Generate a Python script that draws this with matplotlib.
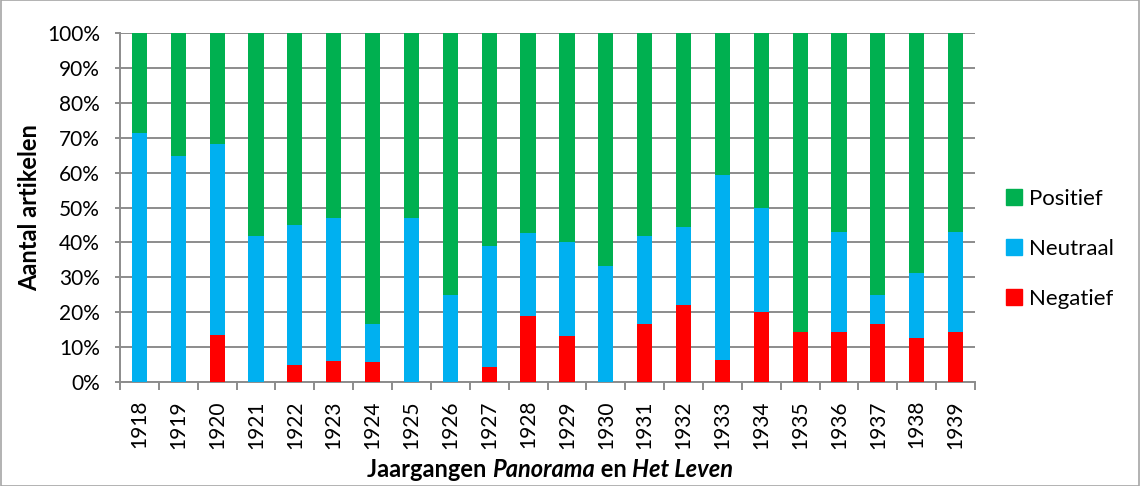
import matplotlib
matplotlib.use("Agg")
import matplotlib.pyplot as plt
from matplotlib.offsetbox import TextArea, HPacker, AnchoredOffsetbox
from matplotlib.patches import Rectangle, Patch
from matplotlib.ticker import FixedLocator, PercentFormatter

plt.rcParams['font.family'] = ['Lato', 'DejaVu Sans']

years = ['1918', '1919', '1920', '1921', '1922', '1923', '1924', '1925', '1926', '1927', '1928',
         '1929', '1930', '1931', '1932', '1933', '1934', '1935', '1936', '1937', '1938', '1939']
negatief = [0.0, 0.0, 13.6, 0.0, 5.0, 5.9, 5.6, 0.0, 0.0, 4.3, 19.0,
            13.3, 0.0, 16.7, 22.2, 6.2, 20.0, 14.3, 14.3, 16.7, 12.5, 14.3]
neutraal = [71.4, 64.7, 54.5, 41.7, 40.0, 41.2, 11.1, 47.1, 25.0, 34.8, 23.8,
            26.7, 33.3, 25.0, 22.2, 53.1, 30.0, 0.0, 28.6, 8.3, 18.8, 28.6]
positief = [28.6, 35.3, 31.9, 58.3, 55.0, 52.9, 83.3, 52.9, 75.0, 60.9, 57.2,
            60.0, 66.7, 58.3, 55.6, 40.7, 50.0, 85.7, 57.1, 75.0, 68.7, 57.1]

GREEN, BLUE, RED = '#00B050', '#00B0F0', '#FF0000'
GRID = '#8C8C8C'

fig = plt.figure(figsize=(11.4, 4.86), dpi=100)
ax = fig.add_axes([120 / 1140, 1 - 382 / 486, 855 / 1140, 349 / 486])

x = list(range(len(years)))
w = 0.39
bottom_neu = negatief
bottom_pos = [a + b for a, b in zip(negatief, neutraal)]
ax.bar(x, negatief, w, color=RED, zorder=3)
ax.bar(x, neutraal, w, bottom=bottom_neu, color=BLUE, zorder=3)
ax.bar(x, positief, w, bottom=bottom_pos, color=GREEN, zorder=3)

ax.set_xlim(-0.5, len(years) - 0.5)
ax.set_ylim(0, 100)
ax.set_yticks(range(0, 101, 10))
ax.yaxis.set_major_formatter(PercentFormatter(decimals=0))
ax.grid(axis='y', color=GRID, linewidth=1.4, zorder=0)

ax.set_xticks(x)
ax.set_xticklabels(years, rotation=90, fontsize=15)
ax.xaxis.set_minor_locator(FixedLocator([i - 0.5 for i in range(len(years) + 1)]))
ax.tick_params(axis='x', which='major', length=0, pad=13)
ax.tick_params(axis='x', which='minor', length=6, width=1.4, color=GRID)
ax.tick_params(axis='y', length=3.5, width=1.4, color=GRID, labelsize=15, pad=11)

for side in ['top', 'right']:
    ax.spines[side].set_visible(False)
for side in ['left', 'bottom']:
    ax.spines[side].set_color(GRID)
    ax.spines[side].set_linewidth(1.4)

ax.set_ylabel('Aantal artikelen', fontsize=17, fontweight='bold')
ax.yaxis.set_label_coords(41 / 1140, 1 - 208 / 486, transform=fig.transFigure)

# x-axis title with italic magazine names
parts = [('Jaargangen ', 'normal'), ('Panorama', 'italic'), (' en ', 'normal'), ('Het Leven', 'italic')]
boxes = [TextArea(t, textprops=dict(fontsize=17, fontweight='bold', style=s)) for t, s in parts]
title = HPacker(children=boxes, align='baseline', pad=0, sep=0)
anch = AnchoredOffsetbox(loc='center', child=title, frameon=False,
                         bbox_to_anchor=(550 / 1140, 1 - 469 / 486),
                         bbox_transform=fig.transFigure, borderpad=0, pad=0)
fig.add_artist(anch)

handles = [Patch(color=GREEN, label='Positief'),
           Patch(color=BLUE, label='Neutraal'),
           Patch(color=RED, label='Negatief')]
fig.legend(handles=handles, loc='center left', bbox_to_anchor=(986 / 1140, 1 - 249 / 486),
           frameon=False, fontsize=16, handlelength=0.7, handleheight=0.7,
           handletextpad=0.35, labelspacing=1.35)

fig.add_artist(Rectangle((0.001, 0.001), 0.998, 0.998, transform=fig.transFigure,
                         fill=False, edgecolor='#A6A6A6', linewidth=1.2))

fig.savefig('out.png', dpi=100)
